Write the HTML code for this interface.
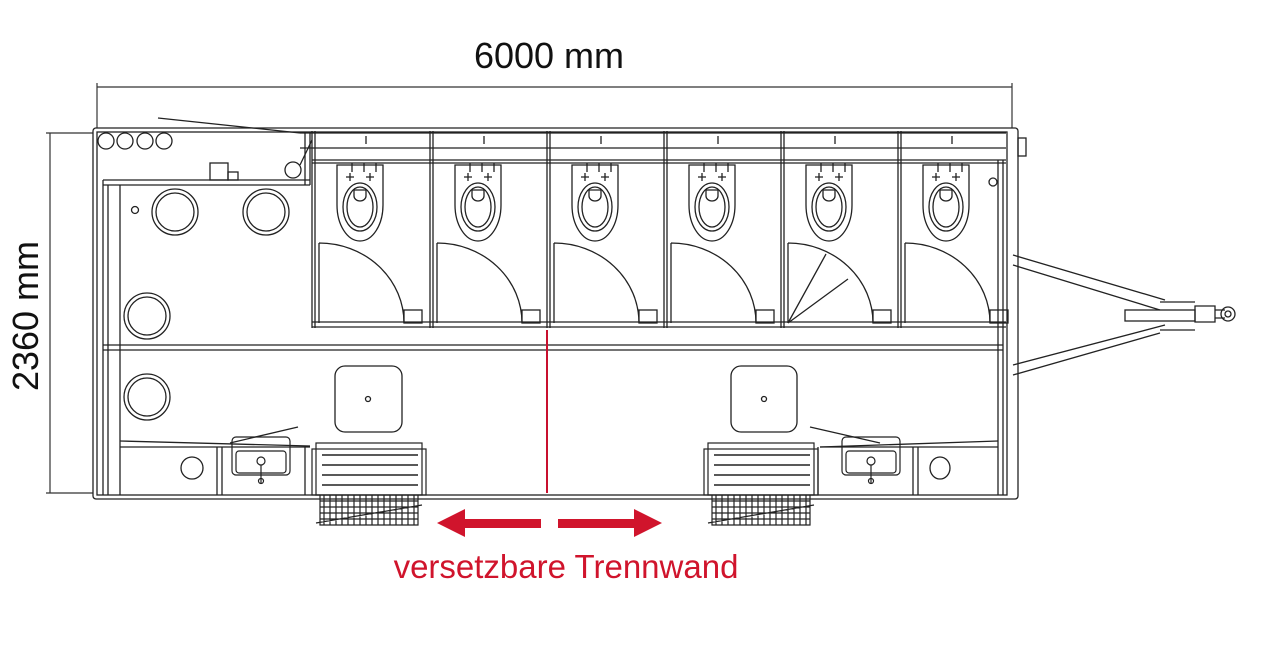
<!DOCTYPE html>
<html><head><meta charset="utf-8"><style>
html,body{margin:0;padding:0;background:#fff;width:1288px;height:663px;overflow:hidden}
svg{display:block}
</style></head><body>
<svg width="1288" height="663" viewBox="0 0 1288 663" xmlns="http://www.w3.org/2000/svg">
<defs>
<g id="stall" fill="none" stroke="#222" stroke-width="1.3">
  <line x1="40" y1="163" x2="40" y2="172"/><line x1="52" y1="163" x2="52" y2="172"/><line x1="64" y1="163" x2="64" y2="172"/>
  <path d="M25 165 L25 205 A23 36 0 0 0 71 205 L71 165 Z"/>
  <ellipse cx="48" cy="207" rx="17" ry="24"/>
  <ellipse cx="48" cy="207" rx="13" ry="20"/>
  <path d="M42 190 h12 v6 a6 5 0 0 1 -12 0 z"/>
  <path d="M34 177 h8 M38 173 v8 M54 177 h8 M58 173 v8"/>
  <path d="M7 243 L7 323 M7 243 A85 80 0 0 1 92 323"/>
  <rect x="92" y="310" width="18" height="13"/>
  <line x1="0" y1="131" x2="0" y2="328"/><line x1="3" y1="131" x2="3" y2="328"/>
  <line x1="54" y1="136" x2="54" y2="144"/>
</g>
<g id="step" fill="none" stroke="#222" stroke-width="1.2">
  <rect x="0" y="0" width="106" height="52"/>
  <rect x="-4" y="6" width="114" height="46"/>
  <path d="M6 12h96M6 22h96M6 32h96M6 42h96" stroke-width="1.6"/>
  <path d="M4 52 v30 h98 v-30" />
  <path d="M8 52v30M14 52v30M20 52v30M26 52v30M32 52v30M38 52v30M44 52v30M50 52v30M56 52v30M62 52v30M68 52v30M74 52v30M80 52v30M86 52v30M92 52v30M98 52v30M4 58h98M4 64h98M4 70h98M4 76h98M0 80 L106 62"/>
</g>
<g id="sink" fill="none" stroke="#222" stroke-width="1.2">
  <rect x="0" y="0" width="58" height="38" rx="4"/>
  <rect x="4" y="14" width="50" height="22" rx="3"/>
  <circle cx="29" cy="24" r="4"/><line x1="29" y1="28" x2="29" y2="46"/><circle cx="29" cy="44" r="2.5"/>
</g>
</defs>

<g stroke="#333" stroke-width="1.2" fill="none">
  <line x1="97" y1="87" x2="1012" y2="87"/>
  <line x1="97" y1="83" x2="97" y2="128"/>
  <line x1="1012" y1="83" x2="1012" y2="128"/>
  <line x1="50" y1="133" x2="50" y2="493"/>
  <line x1="46" y1="133" x2="93" y2="133"/>
  <line x1="46" y1="493" x2="93" y2="493"/>
</g>
<text x="549" y="68" font-family="Liberation Sans, sans-serif" font-size="36" text-anchor="middle" fill="#111">6000 mm</text>
<text transform="translate(38 316) rotate(-90)" font-family="Liberation Sans, sans-serif" font-size="36" text-anchor="middle" fill="#111">2360 mm</text>

<g fill="none" stroke="#222" stroke-width="1.3">
  <rect x="93" y="128" width="925" height="371" rx="3"/>
  <rect x="97" y="132" width="910" height="363"/>
  <rect x="1018" y="138" width="8" height="18"/>
  <line x1="300" y1="133" x2="1006" y2="133"/>
  <line x1="300" y1="148" x2="1006" y2="148"/>
  <line x1="312" y1="160" x2="1006" y2="160"/>
  <line x1="312" y1="163" x2="1006" y2="163"/>
  <line x1="312" y1="322" x2="1006" y2="322"/>
  <line x1="312" y1="327" x2="1006" y2="327"/>
  <line x1="1003" y1="160" x2="1003" y2="495"/>
  <line x1="998" y1="160" x2="998" y2="495"/>
  <line x1="103" y1="345" x2="1003" y2="345"/>
  <line x1="103" y1="350" x2="1003" y2="350"/>
  <line x1="103" y1="180" x2="310" y2="180"/>
  <line x1="103" y1="185" x2="310" y2="185"/>
  <line x1="103" y1="180" x2="103" y2="495"/>
  <line x1="108" y1="185" x2="108" y2="495"/>
  <line x1="120" y1="185" x2="120" y2="495"/>
  <line x1="305" y1="133" x2="305" y2="185"/><line x1="310" y1="133" x2="310" y2="185"/>
  <line x1="158" y1="118" x2="300" y2="133"/>
  <line x1="300" y1="165" x2="312" y2="140"/>
  <circle cx="293" cy="170" r="8"/>
  <rect x="210" y="163" width="18" height="17"/><rect x="228" y="172" width="10" height="8"/>
  <circle cx="106" cy="141" r="8"/><circle cx="125" cy="141" r="8"/><circle cx="145" cy="141" r="8"/><circle cx="164" cy="141" r="8"/>
  <circle cx="135" cy="210" r="3.5"/>
  <circle cx="175" cy="212" r="23"/><circle cx="175" cy="212" r="19"/>
  <circle cx="266" cy="212" r="23"/><circle cx="266" cy="212" r="19"/>
  <circle cx="147" cy="316" r="23"/><circle cx="147" cy="316" r="19"/>
  <circle cx="147" cy="397" r="23"/><circle cx="147" cy="397" r="19"/>
  <line x1="120" y1="441" x2="310" y2="446"/>
  <line x1="120" y1="447" x2="310" y2="447"/>
  <line x1="217" y1="447" x2="217" y2="495"/><line x1="222" y1="447" x2="222" y2="495"/>
  <line x1="305" y1="447" x2="305" y2="495"/>
  <circle cx="192" cy="468" r="11"/>
  <line x1="230" y1="443" x2="298" y2="427"/>
  <line x1="820" y1="447" x2="998" y2="441"/>
  <line x1="820" y1="447" x2="998" y2="447"/>
  <line x1="913" y1="447" x2="913" y2="495"/><line x1="918" y1="447" x2="918" y2="495"/>
  <line x1="818" y1="447" x2="818" y2="495"/>
  <ellipse cx="940" cy="468" rx="10" ry="11"/>
  <line x1="810" y1="427" x2="880" y2="443"/>
  <circle cx="993" cy="182" r="4"/>
  <rect x="335" y="366" width="67" height="66" rx="10"/><circle cx="368" cy="399" r="2.5"/>
  <rect x="731" y="366" width="66" height="66" rx="10"/><circle cx="764" cy="399" r="2.5"/>
  <path d="M1013 255 L1165 300 M1013 265 L1160 310 M1013 365 L1165 325 M1013 375 L1160 333"/>
  <rect x="1125" y="310" width="70" height="11"/>
  <path d="M1160 302 L1195 302 M1160 330 L1195 330 M1195 306 h20 v16 h-20 z"/>
  <circle cx="1228" cy="314" r="7"/><circle cx="1228" cy="314" r="3"/>
  <path d="M1215 310 h10 M1215 318 h10"/>
</g>

<use href="#stall" x="312"/>
<use href="#stall" x="430"/>
<use href="#stall" x="547"/>
<use href="#stall" x="664"/>
<use href="#stall" x="781"/>
<use href="#stall" x="898"/>
<g stroke="#222" stroke-width="1.3" fill="none">
  <path d="M788 323 L826 254 M788 323 L848 279"/>
</g>

<use href="#step" x="316" y="443"/>
<use href="#step" x="708" y="443"/>
<use href="#sink" x="232" y="437"/>
<use href="#sink" x="842" y="437"/>

<line x1="547" y1="330" x2="547" y2="493" stroke="#c8102e" stroke-width="2"/>
<g fill="#d0142c">
  <polygon points="437,523 465,509 465,519 541,519 541,528 465,528 465,537"/>
  <polygon points="662,523 634,509 634,519 558,519 558,528 634,528 634,537"/>
</g>
<text x="566" y="578" font-family="Liberation Sans, sans-serif" font-size="33" text-anchor="middle" fill="#d0142c">versetzbare Trennwand</text>
</svg>
</body></html>
